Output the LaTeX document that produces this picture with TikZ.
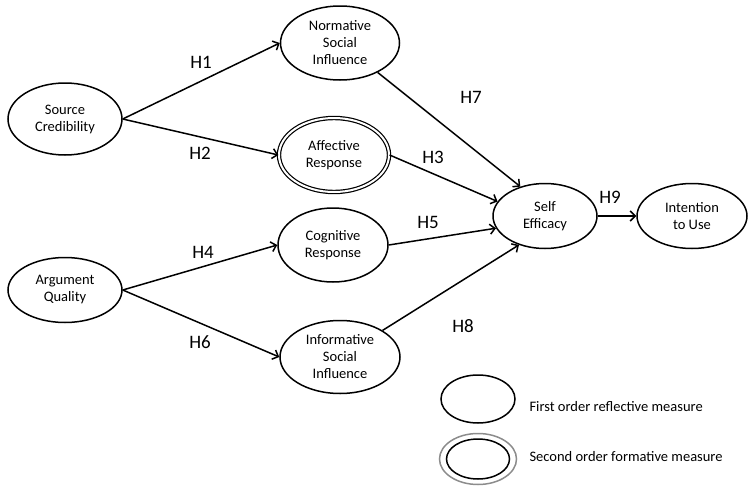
\documentclass[tikz,border=0pt]{standalone}
\usepackage{fontspec}
\setmainfont{Carlito}
\usetikzlibrary{positioning,shapes.geometric,arrows.meta}

\begin{document}
\begin{tikzpicture}[x=1pt,y=-1pt,
  construct/.style={draw,ellipse,line width=1.5pt,inner sep=0pt,align=center,
    font=\fontsize{14.5}{17}\selectfont},
  formative/.style={construct,double,double distance=2pt,line width=1.2pt},
  hyp/.style={font=\fontsize{19}{21}\selectfont},
  legendtxt/.style={anchor=west,font=\fontsize{14.5}{17}\selectfont},
  link/.style={-{Straight Barb[length=5pt,width=10pt]},line width=1.5pt}]

\useasboundingbox (0,0) rectangle (756,490);

\node[construct,minimum width=114,minimum height=72] (sc) at (65,119) {Source\\Credibility};
\node[construct,minimum width=114,minimum height=65] (aq) at (65,290) {Argument\\Quality};
\node[construct,minimum width=119,minimum height=74] (ns) at (340,43) {Normative\\Social\\Influence};
\node[formative,minimum width=110,minimum height=74] (ar) at (334,155) {Affective\\Response};
\node[construct,minimum width=110,minimum height=74] (cr) at (333,245) {Cognitive\\Response};
\node[construct,minimum width=120,minimum height=73] (is) at (340,357) {Informative\\Social\\Influence};
\node[construct,minimum width=104,minimum height=65] (se) at (545,216) {Self\\Efficacy};
\node[construct,minimum width=110,minimum height=65] (iu) at (692,216) {Intention\\to Use};

% hypotheses
\draw[link] (sc.east) -- (ns.west);
\draw[link] (sc.east) -- (ar.west);
\draw[link] (aq.east) -- (cr.west);
\draw[link] (aq.east) -- (is.west);
\draw[link] (ns.-38) -- (se.130);
\draw[link] (ar.east) -- (se.163);
\draw[link] (cr.east) -- (se.194);
\draw[link] (is.32) -- (se.228);
\draw[link] (se.east) -- (iu.west);

\node[hyp] (h1) at (201,62) {H1};
\node[hyp] (h2) at (200,153) {H2};
\node[hyp] (h3) at (433,157) {H3};
\node[hyp] (h4) at (203,252) {H4};
\node[hyp] (h5) at (428,222) {H5};
\node[hyp] (h6) at (200,342) {H6};
\node[hyp] (h7) at (471,97) {H7};
\node[hyp] (h8) at (463,326) {H8};
\node[hyp] (h9) at (610,197) {H9};

% legend
\node[construct,minimum width=74,minimum height=48] (l1) at (478,399) {};
\node[draw=black!45,ellipse,line width=1.5pt,minimum width=77,minimum height=51] (l2) at (478,459) {};
\node[construct,minimum width=63,minimum height=40] (l2in) at (478,459) {};
\node[legendtxt] (t1) at (526,407) {First order reflective measure};
\node[legendtxt] (t2) at (526,457) {Second order formative measure};

\end{tikzpicture}
\end{document}
